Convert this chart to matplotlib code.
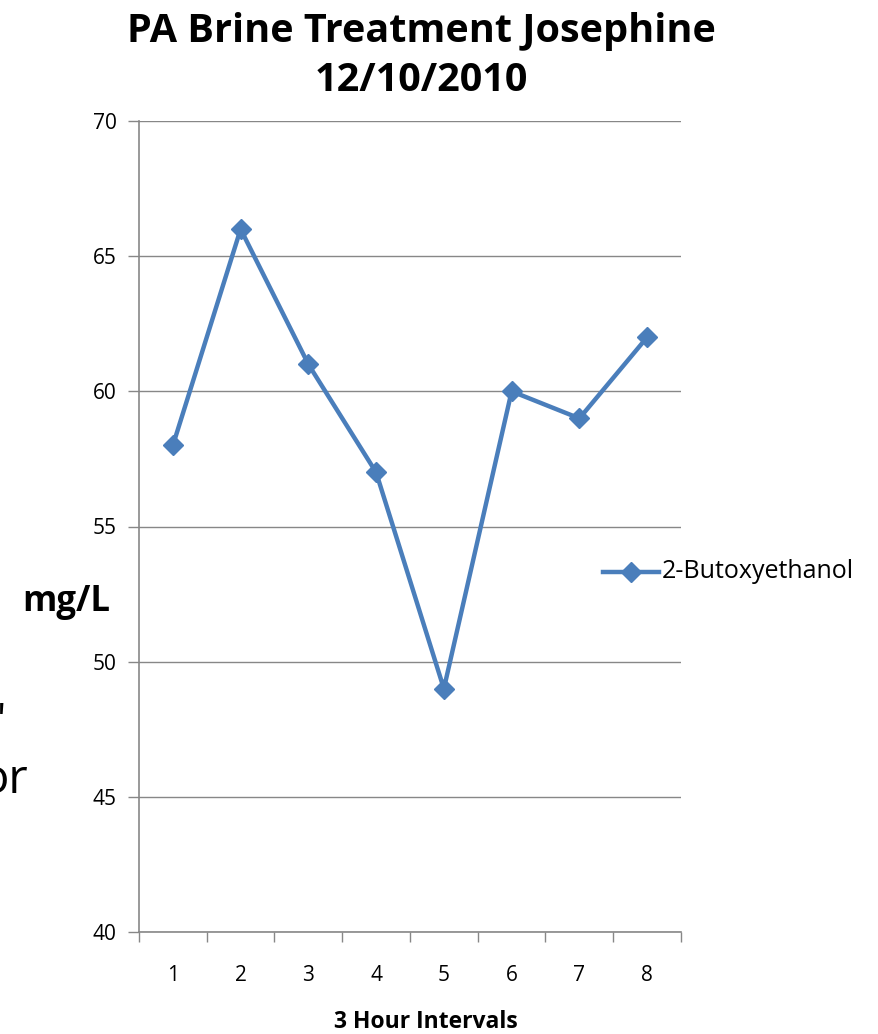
import matplotlib
matplotlib.use("Agg")
import matplotlib.pyplot as plt
from matplotlib.lines import Line2D

categories = ["1", "2", "3", "4", "5", "6", "7", "8"]
values = [58, 66, 61, 57, 49, 60, 59, 62]
series_name = "2-Butoxyethanol"
y_ticks = [40, 45, 50, 55, 60, 65, 70]
title = "PA Brine Treatment Josephine\n12/10/2010"

plt.rcParams['font.family'] = ['Open Sans', 'DejaVu Sans']

W, H = 879, 1034
fig = plt.figure(figsize=(W / 100, H / 100), dpi=100)
ax = fig.add_axes([139 / W, 1 - 932 / H, (681 - 139) / W, (932 - 121) / H])

color = "#4A7EBB"
grid_c = "#878787"
x = list(range(len(categories)))
ax.plot(x, values, color=color, lw=3.2, marker="D", ms=10, mfc=color, mec=color, zorder=3,
        solid_joinstyle="round")

ax.set_xlim(-0.5, len(categories) - 0.5)
ax.set_ylim(40, 70)
ax.set_yticks(y_ticks)
ax.set_yticklabels([str(v) for v in y_ticks], fontsize=15)
ax.yaxis.grid(True, color=grid_c, lw=1.0)
ax.set_axisbelow(True)

ax.set_xticks([i - 0.5 for i in range(len(categories) + 1)])
ax.set_xticklabels([])
ax.set_xticks(x, minor=True)
ax.set_xticklabels(categories, minor=True, fontsize=15)
ax.tick_params(axis="x", which="major", length=7, color=grid_c, width=1)
ax.tick_params(axis="x", which="minor", length=0, pad=24)
ax.tick_params(axis="y", length=8, color=grid_c, width=1, pad=8)

for s in ["top", "right"]:
    ax.spines[s].set_visible(False)
for s in ["left", "bottom"]:
    ax.spines[s].set_color(grid_c)
    ax.spines[s].set_linewidth(1.2)

fig.text(421 / W, 1 - 56 / H, title, ha="center", va="center", fontsize=28.5,
         fontweight="bold", linespacing=1.33)
fig.text(66 / W, 1 - 602 / H, "mg/L", ha="center", va="center", fontsize=25, fontweight="bold")
fig.text(426 / W, 1 - 1022 / H, "3 Hour Intervals", ha="center", va="center",
         fontsize=16.5, fontweight="bold")

# legend
lx0, lx1, ly = 603 / W, 659 / W, 1 - 572 / H
fig.add_artist(Line2D([lx0, lx1], [ly, ly], color=color, lw=3.2, transform=fig.transFigure))
fig.add_artist(Line2D([(lx0 + lx1) / 2], [ly], color=color, marker="D", ms=10,
                      transform=fig.transFigure))
fig.text(662 / W, ly, series_name, ha="left", va="center", fontsize=18)

# stray slide text at left edge (cut off in the reference as well)
fig.text(-20 / W, 1 - 780 / H, "or", ha="left", va="center", fontsize=34)
fig.text(-3 / W, 1 - 722 / H, "'", ha="left", va="center", fontsize=30)

fig.savefig("out.png", dpi=100)
